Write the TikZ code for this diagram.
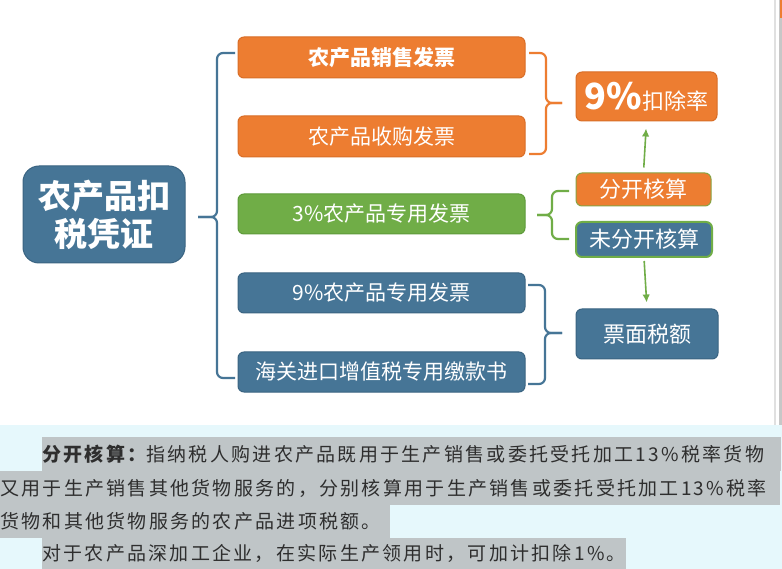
\documentclass[tikz,border=0pt]{standalone}
\usepackage{fontspec}
\setmainfont{Noto Sans CJK SC}
\newfontfamily\bodyfont{Noto Sans CJK SC}[LetterSpace=12]
\usetikzlibrary{arrows.meta}
\definecolor{orng}{HTML}{ED7D31}
\definecolor{orngd}{HTML}{D96E27}
\definecolor{grn}{HTML}{70AD47}
\definecolor{grnd}{HTML}{5E9A3A}
\definecolor{blu}{HTML}{467596}
\definecolor{blud}{HTML}{3A6482}
\definecolor{cyanbg}{HTML}{E6F8FC}
\definecolor{hil}{HTML}{BFC5C7}
\definecolor{txt}{HTML}{2E2E2E}
\tikzset{
  box/.style={rectangle, rounded corners=6, inner sep=0pt, text=white, line width=1pt, align=center},
  obox/.style={box, fill=orng, draw=orngd},
  gbox/.style={box, fill=grn, draw=grnd},
  bbox/.style={box, fill=blu, draw=blud},
  brace/.style={line width=2.2pt, rounded corners=6},
  garrow/.style={draw=grn, line width=1.6pt, -{Latex[length=8pt,width=7.5pt]}},
  fsa/.style={font=\fontsize{21}{21}\selectfont},
  fsb/.style={font=\fontsize{22}{22}\selectfont},
  para/.style={anchor=west, inner sep=0pt, text=txt, font=\bodyfont\fontsize{19}{19}\selectfont},
}
\begin{document}
\begin{tikzpicture}[x=1pt,y=-1pt]
\useasboundingbox (0,0) rectangle (782,569);
\fill[white] (0,0) rectangle (782,569);
% right edge
\fill[black!12] (774,0) rectangle (775.5,425);
\fill[black!22] (779,0) rectangle (782,425);
\fill[orng] (780,0) rectangle (782,18);
% bottom panel
\fill[cyanbg] (0,425) rectangle (782,569);
\fill[hil] (42,437) rectangle (781,471);
\fill[hil] (0,471) rectangle (780,505);
\fill[hil] (0,505) rectangle (390,538);
\fill[hil] (42,538) rectangle (626,569);
\node[para] (p1) at (42,454) {{\bfseries 分开核算：}指纳税人购进农产品既用于生产销售或委托受托加工13\%税率货物};
\node[para] (p2) at (0,488) {又用于生产销售其他货物服务的，分别核算用于生产销售或委托受托加工13\%税率};
\node[para] (p3) at (0,521) {货物和其他货物服务的农产品进项税额。};
\node[para] (p4) at (42,553) {对于农产品深加工企业，在实际生产领用时，可加计扣除1\%。};
% main node
\node[bbox, rounded corners=16, minimum width=162pt, minimum height=97pt,
      font=\bfseries\fontsize{33}{38}\selectfont] (main) at (104,214.5) {农产品扣\\税凭证};
% left column
\node[obox, fsa, minimum width=287pt, minimum height=41pt, font=\bfseries\fontsize{21}{21}\selectfont] (b1) at (381.5,57.5) {农产品销售发票};
\node[obox, fsa, minimum width=287pt, minimum height=41pt] (b2) at (381.5,136.5) {农产品收购发票};
\node[gbox, fsa, minimum width=287pt, minimum height=40pt] (b3) at (381.5,214) {3\%农产品专用发票};
\node[bbox, fsa, minimum width=287pt, minimum height=40pt] (b4) at (381.5,293) {9\%农产品专用发票};
\node[bbox, fsa, minimum width=287pt, minimum height=40pt] (b5) at (381.5,372) {海关进口增值税专用缴款书};
% right column
\node[obox, minimum width=141pt, minimum height=49pt] (rate) at (646.5,96.5)
  {{\bfseries\fontsize{36}{36}\selectfont 9\%}{\fontsize{22}{22}\selectfont 扣除率}};
\node[box, fill=orng, draw=grn!80!orng, fsb, minimum width=135pt, minimum height=33pt] (fk) at (643.5,189.5) {分开核算};
\node[box, fill=blu, draw=grn, line width=2pt, fsb, minimum width=136pt, minimum height=35pt] (wfk) at (644,239.5) {未分开核算};
\node[bbox, fsb, minimum width=142pt, minimum height=50pt] (pm) at (647,334) {票面税额};
% big left brace
\coordinate (L1) at (235,53);
\coordinate (L2) at (235,378);
\coordinate (Lt) at (198,217);
\draw[brace, draw=blu] (L1) -- (217,53) -- (217,217) -- (Lt);
\draw[brace, draw=blu] (Lt) -- (217,217) -- (217,378) -- (L2);
% orange brace
\coordinate (O1) at (529,53);
\coordinate (O2) at (529,154);
\coordinate (Ot) at (562,103);
\draw[brace, draw=orng] (O1) -- (546,53) -- (546,103) -- (Ot);
\draw[brace, draw=orng] (Ot) -- (546,103) -- (546,154) -- (O2);
% green brace
\coordinate (G1) at (569,191);
\coordinate (G2) at (569,239);
\coordinate (Gt) at (537,215);
\draw[brace, draw=grn] (G1) -- (552,191) -- (552,215) -- (Gt);
\draw[brace, draw=grn] (Gt) -- (552,215) -- (552,239) -- (G2);
% blue brace
\coordinate (B1) at (528,285);
\coordinate (B2) at (528,384);
\coordinate (Bt) at (562,333);
\draw[brace, draw=blu] (B1) -- (545,285) -- (545,333) -- (Bt);
\draw[brace, draw=blu] (Bt) -- (545,333) -- (545,384) -- (B2);
% arrows
\draw[garrow, shorten <=5pt, shorten >=7pt] (fk.north) -- (rate.south);
\draw[garrow, shorten <=3pt, shorten >=6pt] (wfk.south) -- (pm.north);
\end{tikzpicture}
\end{document}
